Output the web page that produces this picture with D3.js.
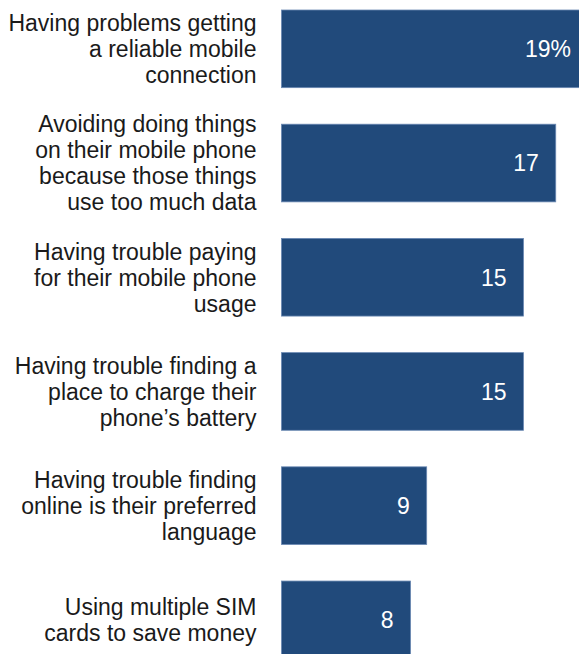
<!DOCTYPE html>
<html>
<head>
<meta charset="utf-8">
<script src="https://cdn.jsdelivr.net/npm/d3@7"></script>
<style>
  html, body { margin: 0; padding: 0; background: #fff; }
  svg { display: block; }
</style>
</head>
<body>
<svg id="chart" width="579" height="654"></svg>
<script>
// Share of respondents reporting each mobile issue (%)
const categories = [
  "Having problems getting a reliable mobile connection",
  "Avoiding doing things on their mobile phone because those things use too much data",
  "Having trouble paying for their mobile phone usage",
  "Having trouble finding a place to charge their phone’s battery",
  "Having trouble finding online is their preferred language",
  "Using multiple SIM cards to save money"
];
// How each category label breaks across lines
const labelLines = [
  ["Having problems getting", "a reliable mobile", "connection"],
  ["Avoiding doing things", "on their mobile phone", "because those things", "use too much data"],
  ["Having trouble paying", "for their mobile phone", "usage"],
  ["Having trouble finding a", "place to charge their", "phone’s battery"],
  ["Having trouble finding", "online is their preferred", "language"],
  ["Using multiple SIM", "cards to save money"]
];
const values = [19, 17, 15, 15, 9, 8];
const valueLabels = ["19%", "17", "15", "15", "9", "8"];

const svg = d3.select("#chart");
const barLeft = 281.5;
const fontFamily = "'Liberation Sans', Arial, sans-serif";

const x = d3.scaleLinear().domain([0, 19]).range([barLeft, barLeft + 306.5]);
const y = d3.scaleBand().domain(categories).range([10, 658.7]).paddingInner(0.32).paddingOuter(0);

const rows = svg.selectAll("g.row")
  .data(categories.map((c, i) => ({ c, i, v: values[i] })))
  .join("g")
  .attr("class", "row");

rows.append("rect")
  .attr("x", x(0))
  .attr("y", d => y(d.c))
  .attr("width", d => x(d.v) - x(0))
  .attr("height", y.bandwidth())
  .attr("fill", "#214a7b")
  .attr("stroke", "#6a88b2")
  .attr("stroke-width", 0.8);

rows.append("text")
  .attr("x", d => x(d.v) - 17)
  .attr("y", d => y(d.c) + y.bandwidth() / 2 + 8.3)
  .attr("text-anchor", "end")
  .attr("fill", "#fff")
  .attr("font-family", fontFamily)
  .attr("font-size", 23)
  .text(d => valueLabels[d.i]);

const lh = 26;
rows.append("text")
  .attr("text-anchor", "end")
  .attr("fill", "#1a1a1a")
  .attr("font-family", fontFamily)
  .attr("font-size", 23)
  .each(function(d) {
    const lines = labelLines[d.i];
    const cy = y(d.c) + y.bandwidth() / 2;
    const first = cy - (lines.length - 1) / 2 * lh + 8.3;
    d3.select(this).selectAll("tspan")
      .data(lines)
      .join("tspan")
      .attr("x", 256.5)
      .attr("y", (l, k) => first + k * lh)
      .text(l => l);
  });
</script>
</body>
</html>
